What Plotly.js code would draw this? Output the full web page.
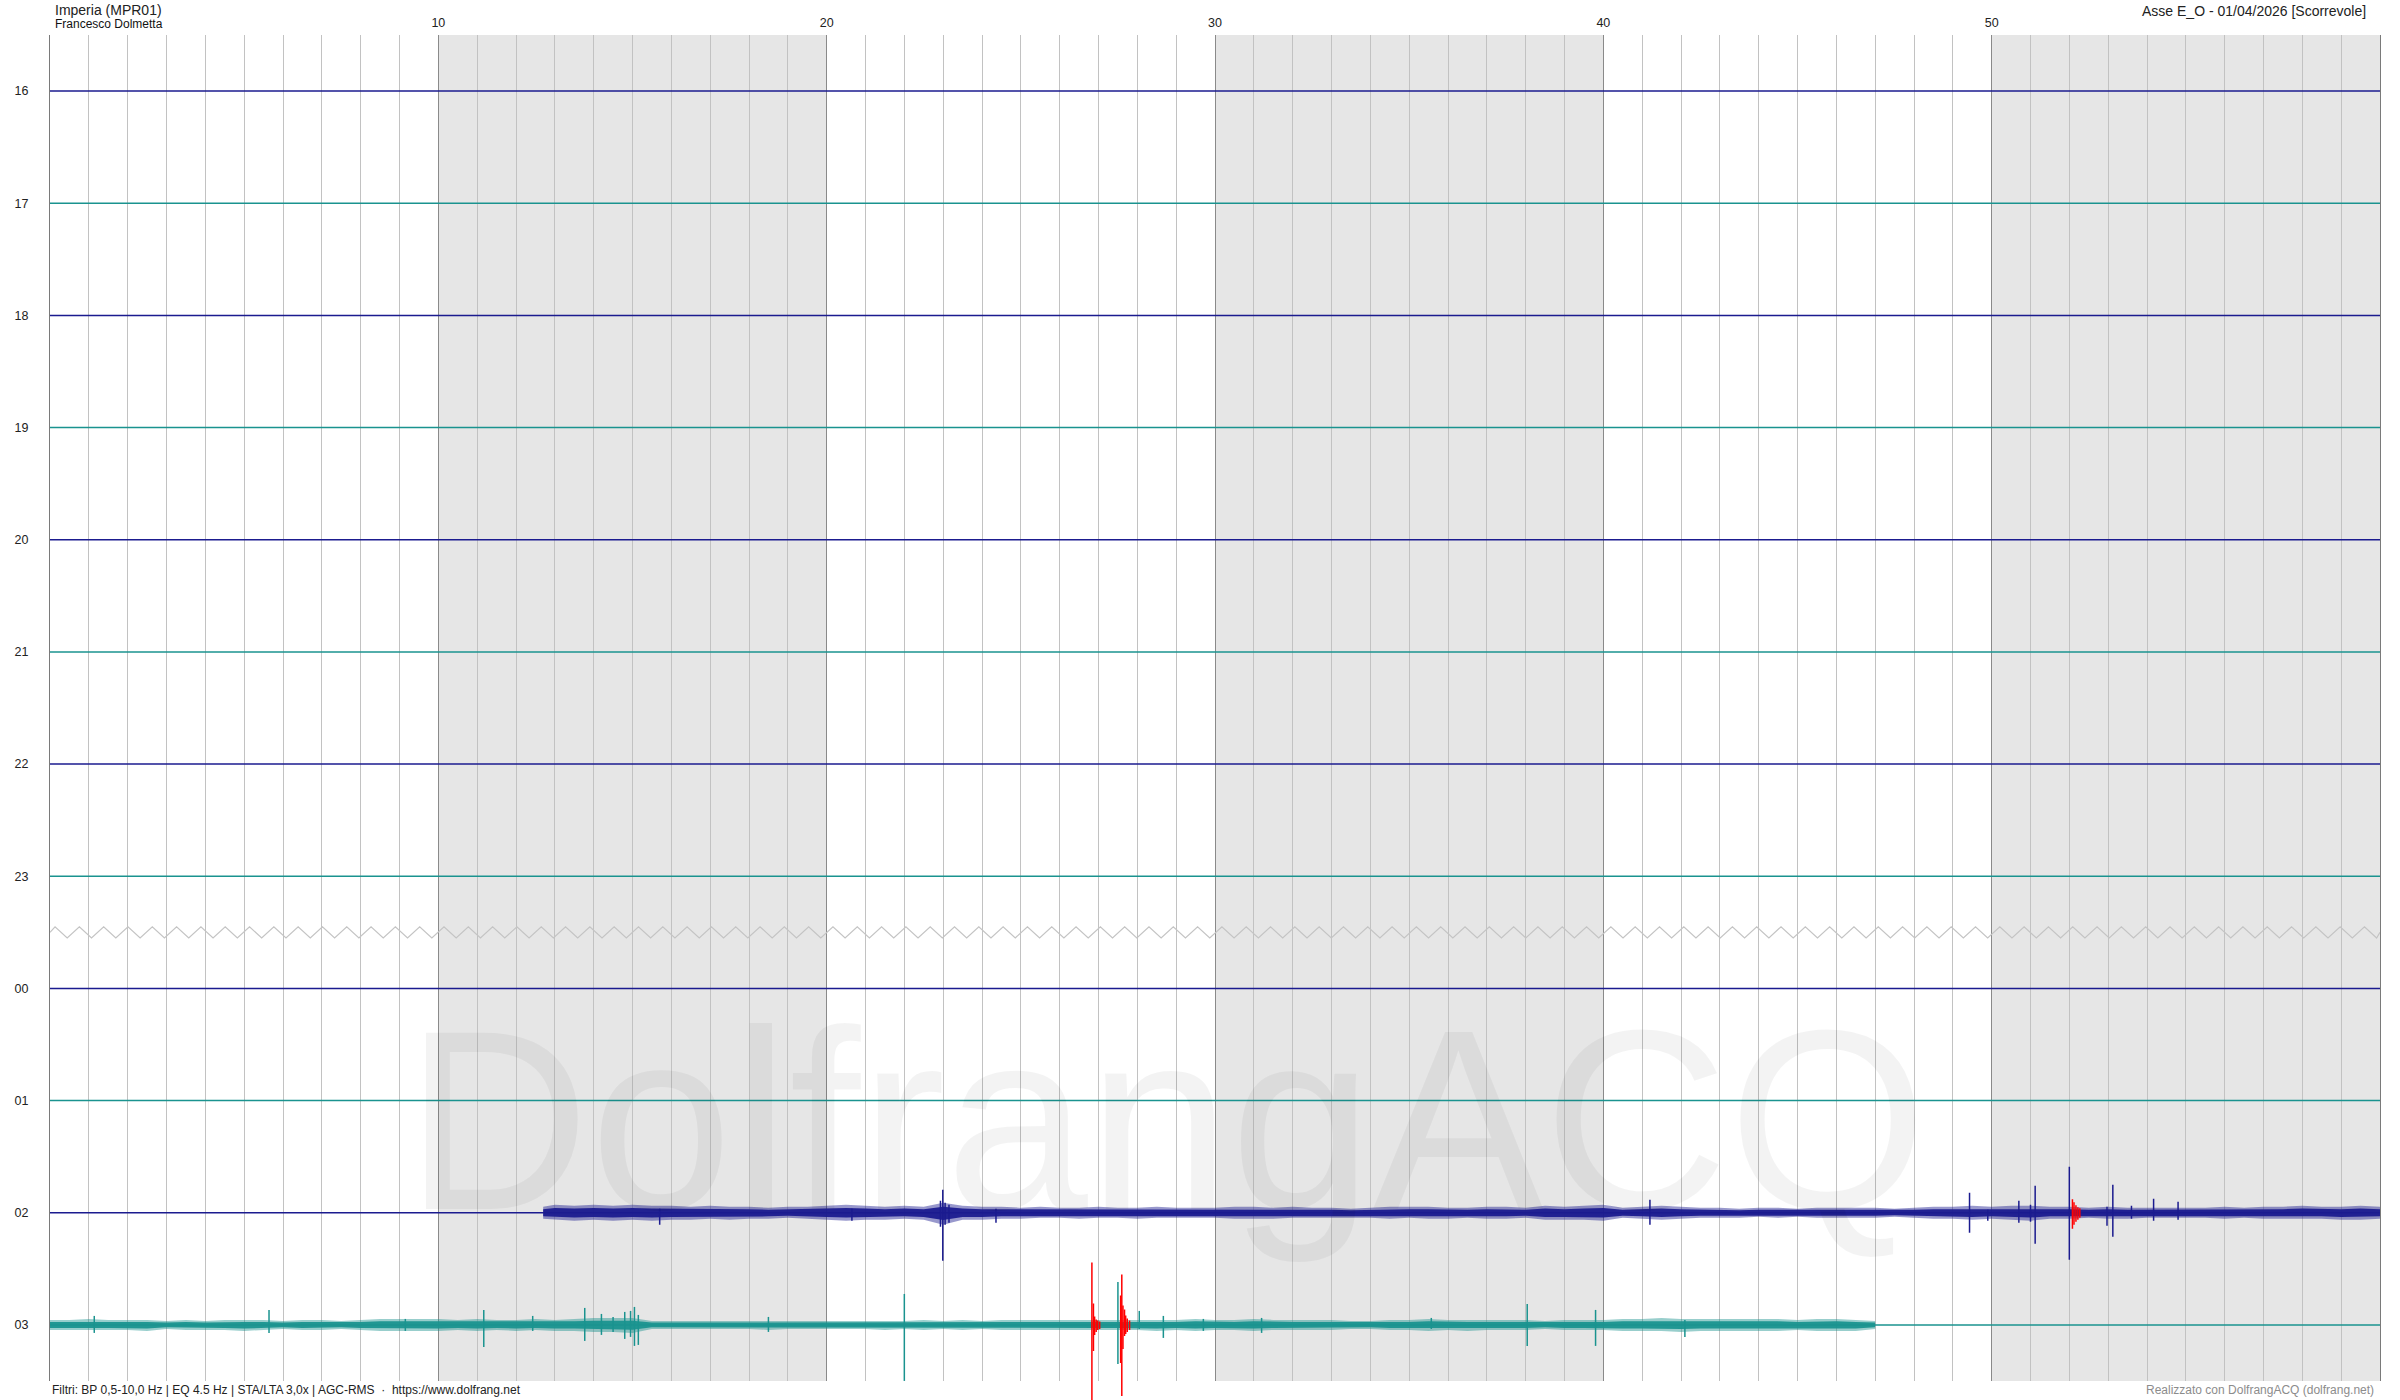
<!DOCTYPE html>
<html>
<head>
<meta charset="utf-8">
<script src="https://cdn.plot.ly/plotly-3.0.1.min.js"></script>
<style>html,body{margin:0;padding:0;background:#fff;}#chart{width:2400px;height:1400px;}</style>
</head>
<body>
<div id="chart"></div>
<script>
// ---- DATA ----
const HOURS = ['16','17','18','19','20','21','22','23','00','01','02','03'];
const MINUTE_TICKS = [10, 20, 30, 40, 50];
const SHADED_DECADES = [[10, 20], [30, 40], [50, 60]];

// Row "02" (navy) noise envelope: time (min), upward and downward excursion (counts)
const T02 = [12.7,13,13.5,14,14.5,15,15.5,16,16.5,17,17.5,18,18.5,19,19.5,20,20.5,21,21.5,22,22.5,23,23.5,24,24.5,25,25.5,26,26.5,27,27.5,28,28.5,29,29.5,30,30.5,31,31.5,32,32.5,33,33.5,34,34.5,35,35.5,36,36.5,37,37.5,38,38.5,39,39.5,40,40.5,41,41.5,42,42.5,43,43.5,44,44.5,45,45.5,46,46.5,47,47.5,48,48.5,49,49.5,50,50.5,51,51.5,52,52.5,53,53.5,54,54.5,55,55.5,56,56.5,57,57.5,58,58.5,59,59.5,60];
const U02 = [6,8,7,8,7,8,7,7,6,7,6,6,5,6,6,7,8,7,6,7,6,10,7,6,6,5,6,5,5,6,5,5,6,5,5,5,6,6,5,6,5,5,4,5,6,6,6,5,5,6,6,5,7,6,7,8,5,6,7,6,5,5,4,5,5,4,5,5,5,5,4,5,6,6,7,6,7,7,6,6,5,6,5,5,5,5,5,6,5,6,6,7,6,6,7,6];
const D02 = [6,7,8,7,8,7,8,7,7,6,7,6,6,5,6,7,8,7,7,6,7,12,7,7,6,6,5,5,6,5,5,6,5,5,5,5,6,6,6,5,5,5,5,5,6,5,6,6,5,6,6,5,7,7,7,8,5,6,7,6,5,5,5,4,5,4,5,5,5,5,4,5,6,6,7,6,7,8,6,6,5,6,6,5,5,5,5,6,5,6,6,6,6,7,7,6];
// Row "02" events: [minute, up, down]
const EV02 = [[15.7,4,12],[20.65,4,8],[22.93,12,14],[22.99,23,48],[23.05,10,12],[23.15,8,10],[24.36,4,10],[41.2,13,12],[49.43,20,20],[49.9,3,8],[50.7,12,10],[51.0,8,9],[51.12,27,31],[52.0,46,47],[52.97,6,13],[53.12,28,24],[53.6,7,6],[54.17,14,8],[54.8,11,7]];
const RED02 = [[52.08,14,16],[52.12,11,12],[52.17,8,9],[52.22,6,7],[52.27,5,5]];

// Row "03" (teal) noise envelope
const T03 = [0,0.5,1,1.5,2,2.5,3,3.5,4,4.5,5,5.5,6,6.5,7,7.5,8,8.5,9,9.5,10,10.5,11,11.5,12,12.5,13,13.5,14,14.5,15,15.5,16,16.5,17,17.5,18,18.5,19,19.5,20,20.5,21,21.5,22,22.5,23,23.5,24,24.5,25,25.5,26,26.5,27,27.5,28,28.5,29,29.5,30,30.5,31,31.5,32,32.5,33,33.5,34,34.5,35,35.5,36,36.5,37,37.5,38,38.5,39,39.5,40,40.5,41,41.5,42,42.5,43,43.5,44,44.5,45,45.5,46,46.5,47];
const U03 = [5,5,6,5,5,5,4,5,4,5,5,5,4,5,5,4,5,6,6,6,6,5,6,5,5,6,5,6,7,7,7,4,4,4,4,4,4,4,4,4,4,4,4,4,4,5,4,5,4,5,5,5,5,5,5,5,5,5,5,6,5,5,6,5,5,5,5,4,4,5,5,6,5,5,5,5,5,4,5,5,5,6,6,7,6,6,6,6,6,6,5,6,6,5,4];
const D03 = [5,5,5,5,5,6,4,5,5,5,6,5,4,5,5,4,5,6,6,6,6,5,6,5,6,5,6,6,7,7,8,4,4,4,4,4,4,5,4,4,4,4,4,5,4,5,4,5,4,5,5,5,5,5,5,5,5,6,5,6,5,5,6,5,5,5,5,4,4,5,5,6,5,6,5,5,5,4,5,5,5,6,6,6,7,6,6,6,6,6,5,6,6,6,4];
const EV03 = [[1.14,9,8],[5.64,15,8],[9.15,6,6],[11.17,15,22],[12.43,9,6],[13.77,17,16],[14.2,11,10],[14.5,8,7],[14.8,13,14],[14.95,14,12],[15.05,18,21],[15.15,10,20],[18.5,8,7],[22.0,31,56],[27.5,43,39],[28.05,14,4],[28.67,9,13],[29.7,6,6],[31.2,7,8],[35.57,7,4],[38.04,21,21],[39.8,15,21],[42.1,5,12]];
const RED03 = [[26.83,63,76],[26.87,22,26],[26.9,9,10],[26.94,6,7],[26.98,5,5],[27.03,4,4],[27.57,30,38],[27.6,51,71],[27.63,20,24],[27.67,16,11],[27.7,10,9],[27.74,7,7],[27.8,5,5]];

// ---- STYLE / SCALE ----
const COUNTS_PER_ROW = 112.2;
const NAVY = '#1b1b8f', TEAL = '#1a938f', RED = '#ff0000';
const FONT = 'Liberation Sans, Arial, sans-serif';
const ROW02 = HOURS.indexOf('02'), ROW03 = HOURS.indexOf('03');

const traces = [];

// zigzag break marker between 23 and 00 (decorative)
(function(){
  const r = (HOURS.indexOf('23') + HOURS.indexOf('00')) / 2;
  const half = 0.313, amp = 0.05;
  const x = [0], y = [r];
  let k = 0;
  for (let t = 0.13; t <= 60; t += half, k++) { x.push(t); y.push(k % 2 === 0 ? r - amp : r + amp); }
  x.push(60); y.push(r);
  traces.push({x, y, mode:'lines', line:{color:'#c4c4c4', width:1.2}, hoverinfo:'skip', showlegend:false});
})();

// hour baselines
HOURS.forEach((h, i) => {
  traces.push({x:[0,60], y:[i,i], mode:'lines', line:{color: i % 2 === 0 ? NAVY : TEAL, width:1.5}, hoverinfo:'skip', showlegend:false});
});

function band(T, U, D, r, k, color) {
  const x = T.concat(T.slice().reverse());
  const top = T.map((t,i) => r - U[i]*k/COUNTS_PER_ROW);
  const bot = T.map((t,i) => r + D[i]*k/COUNTS_PER_ROW).reverse();
  return {x, y: top.concat(bot), mode:'lines', fill:'toself', fillcolor:color, line:{width:0, color:color}, hoverinfo:'skip', showlegend:false};
}
function spikes(EV, r, color, w) {
  const x = [], y = [];
  EV.forEach(e => { x.push(e[0], e[0], null); y.push(r - e[1]/COUNTS_PER_ROW, r + e[2]/COUNTS_PER_ROW, null); });
  return {x, y, mode:'lines', line:{color, width:w}, hoverinfo:'skip', showlegend:false, connectgaps:false};
}

traces.push(band(T02, U02, D02, ROW02, 1.0, 'rgba(27,27,143,0.45)'));
traces.push(band(T02, U02, D02, ROW02, 0.6, 'rgba(27,27,143,0.95)'));
traces.push(band(T03, U03, D03, ROW03, 1.0, 'rgba(26,147,143,0.45)'));
traces.push(band(T03, U03, D03, ROW03, 0.6, 'rgba(26,147,143,0.95)'));
traces.push(spikes(EV02, ROW02, NAVY, 1.5));
traces.push(spikes(EV03, ROW03, TEAL, 1.5));

// shapes: shaded decades
const shapes = SHADED_DECADES.map(d => ({type:'rect', xref:'x', yref:'paper', x0:d[0], x1:d[1], y0:0, y1:1, fillcolor:'#e6e6e6', line:{width:0}, layer:'below'}));

// annotations
const W = 2330, H = 1346.1, TOP = 34.5, LEFT = 50;
const py = (pix) => 1 + (TOP - pix) / H; // page pixel y -> paper
const px = (pix) => (pix - LEFT) / W;
const annotations = [
  {text:'DolfrangACQ', xref:'x', yref:'y', x:28.74, y:9.17, showarrow:false, xanchor:'center', yanchor:'middle', font:{family:FONT, size:256, color:'rgba(0,0,0,0.048)'}},
  {text:'Imperia (MPR01)', xref:'paper', yref:'paper', x:px(53), y:py(9.5), xanchor:'left', yanchor:'middle', showarrow:false, font:{family:FONT, size:14, color:'#222'}},
  {text:'Francesco Dolmetta', xref:'paper', yref:'paper', x:px(53), y:py(23.5), xanchor:'left', yanchor:'middle', showarrow:false, font:{family:FONT, size:12, color:'#111'}},
  {text:'Asse E_O - 01/04/2026 [Scorrevole]', xref:'paper', yref:'paper', x:px(2368), y:py(10), xanchor:'right', yanchor:'middle', showarrow:false, font:{family:FONT, size:14, color:'#222'}},
  {text:'Filtri: BP 0,5-10,0 Hz | EQ 4.5 Hz | STA/LTA 3,0x | AGC-RMS  ·  https://www.dolfrang.net', xref:'paper', yref:'paper', x:px(50), y:py(1390), xanchor:'left', yanchor:'middle', showarrow:false, font:{family:FONT, size:12, color:'#222'}},
  {text:'Realizzato con DolfrangACQ (dolfrang.net)', xref:'paper', yref:'paper', x:px(2376), y:py(1390), xanchor:'right', yanchor:'middle', showarrow:false, font:{family:FONT, size:12, color:'#8c8c8c'}}
];
// red (triggered) spikes drawn as unclipped line annotations
[[RED02, ROW02], [RED03, ROW03]].forEach(([list, r]) => {
  list.forEach(e => {
    annotations.push({text:'', xref:'x', yref:'y', axref:'x', ayref:'y', x:e[0], y:r + e[2]/COUNTS_PER_ROW, ax:e[0], ay:r - e[1]/COUNTS_PER_ROW,
      showarrow:true, arrowhead:0, arrowwidth:1.5, arrowcolor:RED, standoff:0, startstandoff:0, font:{size:1}, borderpad:0});
  });
});

const layout = {
  width:2400, height:1400,
  margin:{l:50, r:20, t:34.5, b:19.4, pad:0},
  paper_bgcolor:'#ffffff', plot_bgcolor:'#ffffff',
  showlegend:false,
  font:{family:FONT, color:'#222', size:12},
  xaxis:{range:[0,60], side:'top', tickmode:'array', tickvals:MINUTE_TICKS, ticktext:MINUTE_TICKS.map(String),
    showgrid:true, gridcolor:'#8a8a8a', gridwidth:1, zeroline:false, showline:false, ticks:'', ticklabelstandoff:5,
    tickfont:{family:FONT, size:12.5, color:'#222'},
    minor:{tickmode:'linear', tick0:0, dtick:1, showgrid:true, gridcolor:'#c2c2c2', gridwidth:1}},
  yaxis:{range:[11.5,-0.5], tickmode:'array', tickvals:HOURS.map((h,i)=>i), ticktext:HOURS, showgrid:false, zeroline:false,
    showline:true, mirror:true, linecolor:'#7a7a7a', linewidth:1, ticks:'', ticklabelstandoff:18,
    tickfont:{family:FONT, size:12.5, color:'#222'}},
  shapes, annotations
};

Plotly.newPlot('chart', traces, layout, {staticPlot:true, displayModeBar:false});
</script>
</body>
</html>
